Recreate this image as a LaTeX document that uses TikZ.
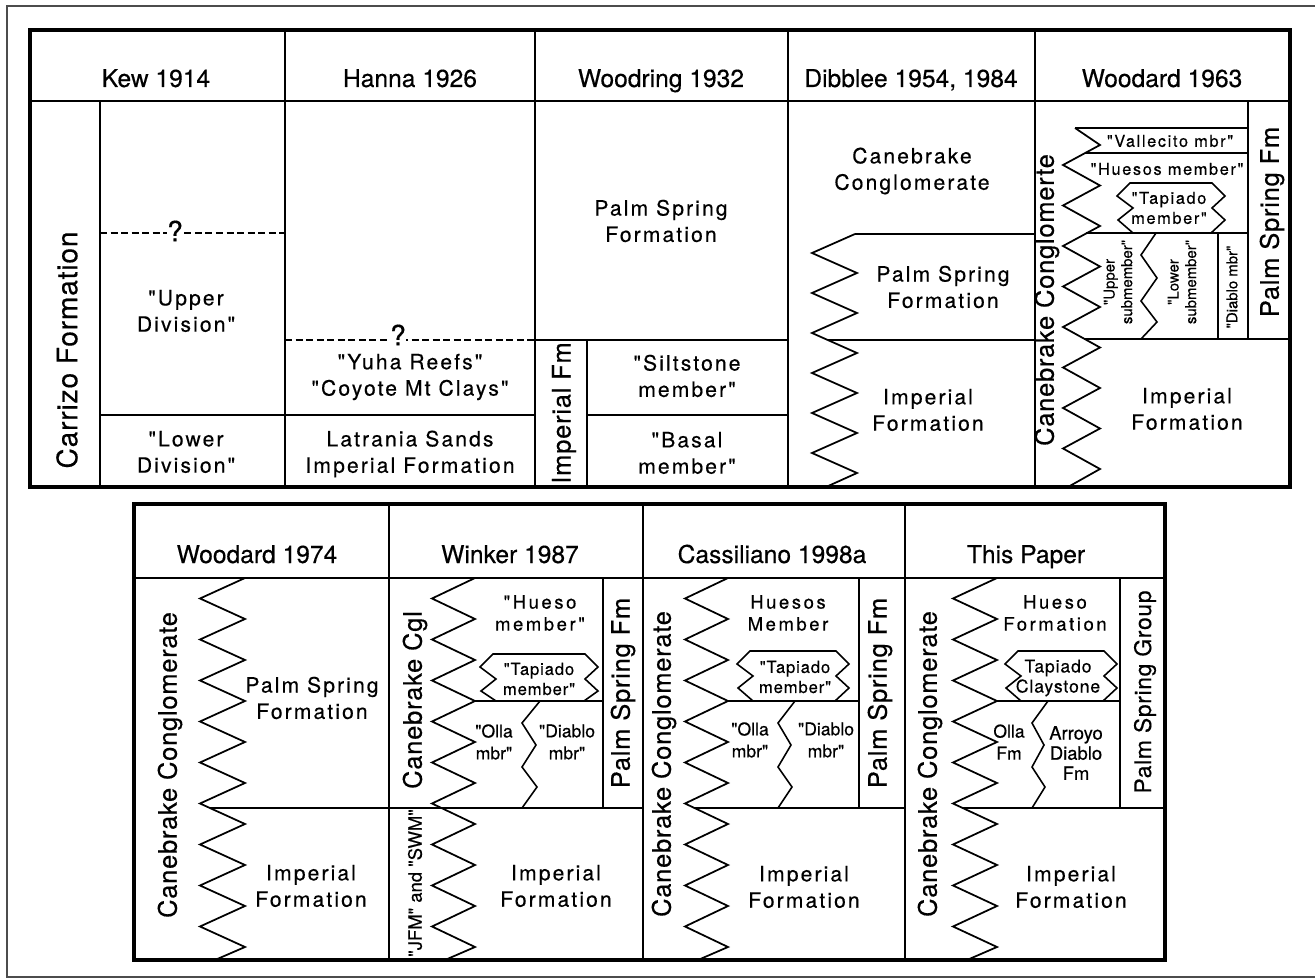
\documentclass[tikz,border=0pt]{standalone}
\usepackage{fontspec}
\setmainfont{TeX Gyre Heros}
\newfontfamily\hdfont[FakeBold=0.4]{TeX Gyre Heros}
\newfontfamily\txfont[LetterSpace=10, FakeBold=0.4]{TeX Gyre Heros}
\newfontfamily\wdfont[LetterSpace=14, FakeBold=0.4]{TeX Gyre Heros}
\newfontfamily\nrfont[LetterSpace=5, FakeBold=0.4]{TeX Gyre Heros}
\newfontfamily\sdfont[LetterSpace=3, FakeBold=0.4]{TeX Gyre Heros}

\tikzset{
  box/.style={line width=1.9pt},
  col/.style={line width=1.6pt},
  ln/.style={line width=0.9pt},
  zz/.style={line width=1pt},
  dsh/.style={line width=0.9pt, dash pattern=on 4pt off 2pt},
  frame/.style={line width=0.8pt, black!70},
  hd/.style={anchor=base, font=\hdfont\fontsize{14}{16}\selectfont},
  tx/.style={align=center, font=\txfont\fontsize{12}{15}\selectfont},
  sd/.style={rotate=90, font=\sdfont\fontsize{14.5}{17}\selectfont},
  mb/.style={align=center, font=\wdfont\fontsize{10.5}{12.5}\selectfont},
  tp/.style={align=center, font=\nrfont\fontsize{9.5}{11.4}\selectfont},
  ol/.style={align=center, font=\hdfont\fontsize{10}{12.5}\selectfont},
  sm/.style={align=center, font=\txfont\fontsize{9.3}{11.4}\selectfont},
  nr/.style={rotate=90, align=center, font=\hdfont\fontsize{8.5}{10}\selectfont},
  qm/.style={fill=white, inner sep=0.3pt, font=\hdfont\fontsize{16}{18}\selectfont}
}

\begin{document}
\begin{tikzpicture}[x=0.02cm, y=-0.02cm]
\useasboundingbox (0,0) rectangle (1315,979);
\draw[frame] (1315,6) -- (7,6) -- (7,977) -- (1315,977);

% upper table
\draw[box] (30,30) rectangle (1290,487);
\draw[col] (30,101) -- (1290,101);
\foreach \x in {285,535,788,1035} \draw[col] (\x,30) -- (\x,487);
\node[hd] (kew) at (156,87) {Kew 1914};
\node[hd] (hanna) at (410,87) {Hanna 1926};
\node[hd] (woodring) at (661,87) {Woodring 1932};
\node[hd] (dibblee) at (911,87) {Dibblee 1954, 1984};
\node[hd] (woodard63) at (1162,87) {Woodard 1963};

% Kew
\draw[ln] (100,101) -- (100,487);
\draw[dsh] (100,233) -- (285,233);
\draw[ln] (100,415) -- (285,415);
\node[qm] (kewq) at (175,231) {?};
\node[sd, font=\sdfont\fontsize{16}{18}\selectfont] (carrizo) at (67,350) {Carrizo Formation};
\node[tx] (upper) at (186,311) {"Upper\\Division"};
\node[tx] (lower) at (186,452) {"Lower\\Division"};

% Hanna
\draw[dsh] (285,340) -- (535,340);
\draw[ln] (285,415) -- (535,415);
\node[qm] (hannaq) at (398,335) {?};
\node[tx, inner sep=1pt] (yuha) at (410,377) {"Yuha Reefs"\\"Coyote Mt Clays"};
\node[tx] (latrania) at (410,454) {Latrania Sands\\Imperial Formation};

% Woodring
\draw[ln] (535,340) -- (788,340);
\draw[ln] (587,340) -- (587,487);
\draw[ln] (587,415) -- (788,415);
\node[tx] (palm1) at (661,221) {Palm Spring\\Formation};
\node[sd] (impfm1) at (564,413) {Imperial Fm};
\node[tx] (silt) at (687,376) {"Siltstone\\member"};
\node[tx] (basal) at (687,453) {"Basal\\member"};

% Dibblee
\draw[ln] (1035,234) -- (855,234);
\draw[zz] (855,234) \foreach \k in {0,...,5} {-- (812,253+40*\k) -- (857,273+40*\k)} -- (826,487);
\draw[ln] (828,340) -- (1035,340);
\node[tx] (cane1) at (912,171) {Canebrake\\Conglomerate};
\node[tx] (palm2) at (943,287) {Palm Spring\\Formation};
\node[tx] (imp2) at (928,410) {Imperial\\Formation};

% Woodard 1963
\draw[ln] (1248,101) -- (1248,339);
\draw[ln] (1085,339) -- (1290,339);
\draw[zz] (1075,128) -- (1100,145) \foreach \k in {0,...,7} {-- (1063,165+40.5*\k) -- (1100,185.5+40.5*\k)} -- (1068,487);
\draw[ln] (1075,128) -- (1248,128);
\draw[ln] (1085,153) -- (1248,153);
\draw[ln] (1086,233) -- (1248,233);
\draw[ln] (1156,233) -- (1141,255) -- (1157,278) -- (1141,301) -- (1157,322) -- (1141,339);
\draw[ln] (1218,233) -- (1218,339);
\node[sd] (cane2) at (1047,300) {Canebrake Conglomerte};
\node[sd] (palmfm1) at (1272,222) {Palm Spring Fm};
\node[sm] (vall) at (1170,141) {"Vallecito mbr"};
\node[sm] (huesos1) at (1167,169) {"Huesos member"};
\node[sm] (tapiado1) at (1169,208) {"Tapiado\\member"};
\node[nr] (upsub) at (1118,282) {"Upper\\submember"};
\node[nr] (lowsub) at (1182,282) {"Lower\\submember"};
\node[nr] (diablo1) at (1232,287) {"Diablo mbr"};
\node[tx] (imp3) at (1187,409) {Imperial\\Formation};

% lower table
\draw[box] (134,504) rectangle (1165,960);
\draw[col] (134,578) -- (1165,578);
\foreach \x in {389,643,905} \draw[col] (\x,504) -- (\x,960);
\node[hd] (woodard74) at (257,563) {Woodard 1974};
\node[hd] (winker) at (510,563) {Winker 1987};
\node[hd] (cassiliano) at (772,563) {Cassiliano 1998a};
\node[hd] (thispaper) at (1026,563) {This Paper};

% interfingering edges
\foreach \xl/\xr in {200/245, 432/475, 685/728, 953/997}
  \draw[zz] (\xr,578) \foreach \k in {0,...,8} {-- (\xl,598.5+41*\k) -- (\xr,619+41*\k)} -- (\xr-30,960);
\draw[ln] (210,808) -- (643,808);
\draw[ln] (694,808) -- (905,808);
\draw[ln] (963,808) -- (1165,808);
\foreach \x in {603,859,1120} \draw[ln] (\x,578) -- (\x,808);
\draw[ln] (475,701) -- (603,701);
\draw[ln] (728,701) -- (859,701);
\draw[ln] (997,701) -- (1120,701);

% Tapiado tongues
\foreach \xl/\xr/\yt/\yb in {1130/1212/183/233, 493/585/654/701, 750/836/651/701, 1018/1104/651/701}
  \draw[ln] (\xl+3,\yb) -- (\xl-12,\yt+37) -- (\xl+3,\yt+25) -- (\xl-13,\yt+13) -- (\xl,\yt) -- (\xr,\yt) -- (\xr+13,\yt+13) -- (\xr,\yt+25) -- (\xr+13,\yt+37) -- (\xr-1,\yb);

% Olla / Diablo contacts
\foreach \xa/\xb in {540/522, 795/778, 1048/1032}
  \draw[ln] (\xa,701) -- (\xb,723) -- (\xa-4,745) -- (\xb,767) -- (\xa-3,787) -- (\xb,808);

% Woodard 1974
\node[sd] (cane3) at (170,765) {Canebrake Conglomerate};
\node[tx] (palm3) at (312,698) {Palm Spring\\Formation};
\node[tx] (imp4) at (311,886) {Imperial\\Formation};

% Winker
\node[sd] (cane4) at (415,700) {Canebrake Cgl};
\node[sd, font=\hdfont\fontsize{10.5}{12}\selectfont] (jfm) at (415,883) {"JFM" and "SWM"};
\node[sd] (palmfm2) at (623,693) {Palm Spring Fm};
\node[mb] (hueso1) at (540,613) {"Hueso\\member"};
\node[tp] (tapiado2) at (539,679) {"Tapiado\\member"};
\node[ol] (olla1) at (494,742) {"Olla\\mbr"};
\node[ol] (diablo2) at (567,742) {"Diablo\\mbr"};
\node[tx] (imp5) at (556,886) {Imperial\\Formation};

% Cassiliano
\node[sd] (cane5) at (664,764) {Canebrake Conglomerate};
\node[sd] (palmfm3) at (880,693) {Palm Spring Fm};
\node[mb] (hueso2) at (788,613) {Huesos\\Member};
\node[tp] (tapiado3) at (795,677) {"Tapiado\\member"};
\node[ol] (olla2) at (750,740) {"Olla\\mbr"};
\node[ol] (diablo3) at (826,740) {"Diablo\\mbr"};
\node[tx] (imp6) at (804,887) {Imperial\\Formation};

% This Paper
\node[sd] (cane6) at (930,764) {Canebrake Conglomerate};
\node[sd, font=\sdfont\fontsize{13}{15}\selectfont] (palmgp) at (1145,692) {Palm Spring Group};
\node[mb] (hueso3) at (1055,613) {Hueso\\Formation};
\node[tp, font=\nrfont\fontsize{10}{11.4}\selectfont] (tapiado4) at (1058,678) {Tapiado\\Claystone};
\node[ol] (olla3) at (1009,742) {Olla\\Fm};
\node[ol, font=\hdfont\fontsize{10.5}{11.5}\selectfont] (arroyo) at (1076,753) {Arroyo\\Diablo\\Fm};
\node[tx] (imp7) at (1071,887) {Imperial\\Formation};
\end{tikzpicture}
\end{document}
